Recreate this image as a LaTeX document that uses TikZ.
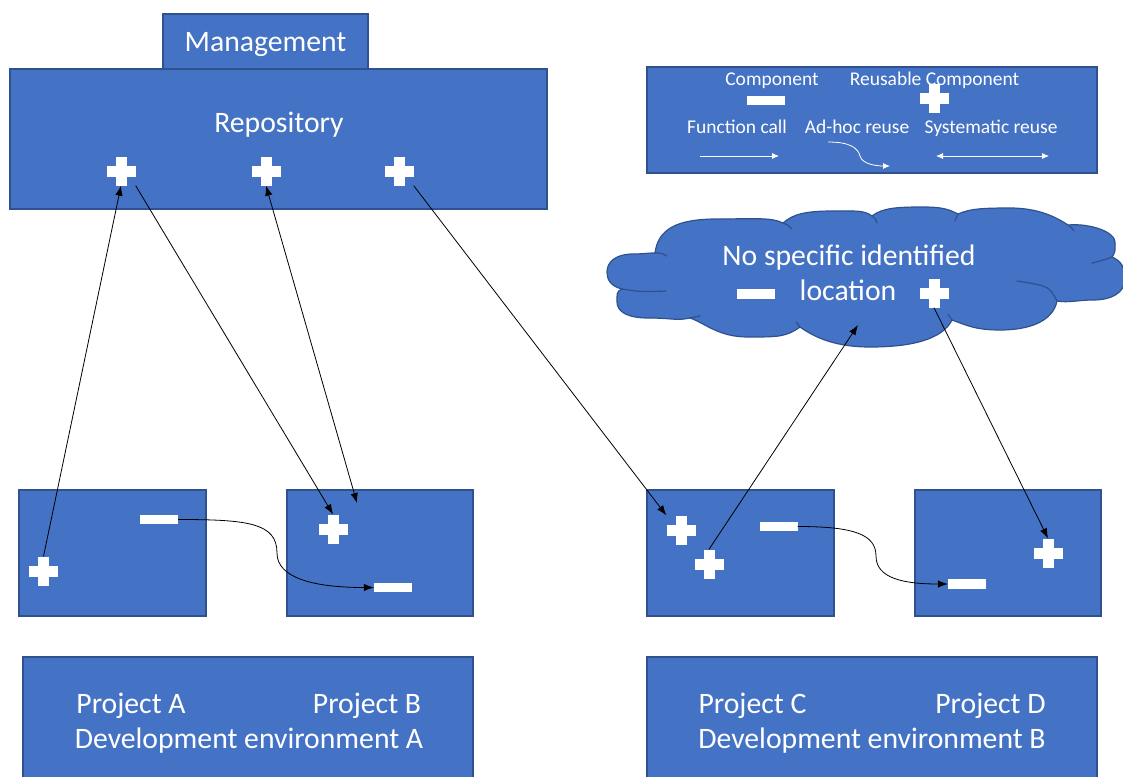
\documentclass[tikz,border=0pt]{standalone}
\usepackage{fontspec}
\setmainfont{Carlito}
\usetikzlibrary{arrows.meta,calc}
\definecolor{boxblue}{HTML}{4472C4}
\definecolor{boxedge}{HTML}{2F528F}
\tikzset{
 bluebox/.style={draw=boxedge, fill=boxblue, line width=1.2pt, inner sep=0},
 txt/.style={text=white, font=\fontsize{29.7}{35}\selectfont, inner sep=0, anchor=base},
 smalltxt/.style={text=white, font=\fontsize{19.5}{23}\selectfont, inner sep=0, anchor=base},
 minusbar/.style={fill=white, minimum width=38pt, minimum height=9.5pt, inner sep=0},
 plusnode/.style={minimum width=29pt, minimum height=29pt, inner sep=0},
 conn/.style={black, line width=0.8pt, -{Latex[length=10pt,width=7.5pt]}},
 conntwo/.style={black, line width=0.8pt, {Latex[length=10pt,width=7.5pt]}-{Latex[length=10pt,width=7.5pt]}},
 legarr/.style={white, line width=0.8pt, -{Latex[length=7pt,width=6pt]}},
 legarrtwo/.style={white, line width=0.8pt, {Latex[length=7pt,width=6pt]}-{Latex[length=7pt,width=6pt]}},
 puffline/.style={draw=boxedge, line width=1.2pt, line cap=round},
}
\newcommand\crossat[2]{%
 \node[plusnode] (#1) at (#2) {};
 \fill[white] ([xshift=-14.5pt,yshift=-5.5pt]#1.center) rectangle ([xshift=14.5pt,yshift=5.5pt]#1.center);
 \fill[white] ([xshift=-5.5pt,yshift=-14.5pt]#1.center) rectangle ([xshift=5.5pt,yshift=14.5pt]#1.center);}
\begin{document}
\begin{tikzpicture}[x=1pt,y=-1pt]
\useasboundingbox[fill=white] (0,0) rectangle (1123,776);
% boxes
\node[bluebox, minimum width=205pt, minimum height=55pt] (mgmt) at (265.5,41.5) {};
\node[bluebox, minimum width=537pt, minimum height=140pt] (repo) at (278.5,139) {};
\node[bluebox, minimum width=450pt, minimum height=106pt] (legend) at (872,120) {};
\node[bluebox, minimum width=187pt, minimum height=126pt] (pA) at (112.5,553) {};
\node[bluebox, minimum width=186pt, minimum height=126pt] (pB) at (380,553) {};
\node[bluebox, minimum width=187pt, minimum height=126pt] (pC) at (740.5,553) {};
\node[bluebox, minimum width=186pt, minimum height=126pt] (pD) at (1008,553) {};
\node[bluebox, minimum width=450pt, minimum height=133pt] (devA) at (248,723.5) {};
\node[bluebox, minimum width=450pt, minimum height=133pt] (devB) at (872,723.5) {};
% cloud outline
\coordinate (c1) at (655,253);
\coordinate (c2) at (783,223);
\coordinate (c3) at (872,216);
\coordinate (c4) at (958,214);
\coordinate (c5) at (1068,225);
\coordinate (c6) at (1112,257);
\coordinate (c7) at (1057,301);
\coordinate (c8) at (952,320);
\coordinate (c9) at (800,327);
\coordinate (c10) at (690,318);
\coordinate (c11) at (622,289);
\draw[puffline, fill=boxblue]
  (c11) .. controls +(-12,-3) and +(0,7) .. (607,272)
        .. controls +(0,-11) and +(-16,0) .. (633,254)
        .. controls +(10,0) and +(-8,0) .. (c1)
        .. controls +(3,-24) and +(-40,0) .. (717,219)
        .. controls +(35,0) and +(-12,-6) .. (c2)
        .. controls +(10,-9) and +(-27,0) .. (833,211)
        .. controls +(22,0) and +(-8,-6) .. (c3)
        .. controls +(10,-8) and +(-25,0) .. (922,207)
        .. controls +(20,0) and +(-10,-5) .. (c4)
        .. controls +(12,-5) and +(-30,0) .. (1010,208)
        .. controls +(28,0) and +(-12,-8) .. (c5)
        .. controls +(22,-2) and +(0,-10) .. (1115,242)
        .. controls +(0,8) and +(4,-6) .. (c6)
        .. controls +(9,4) and +(0,-12) .. (1125,279)
        .. controls +(0,14) and +(18,0) .. (1093,300)
        .. controls +(-15,0) and +(12,2) .. (c7)
        .. controls +(-4,20) and +(30,0) .. (1000,330)
        .. controls +(-25,0) and +(14,5) .. (c8)
        .. controls +(-10,20) and +(40,0) .. (870,347)
        .. controls +(-40,0) and +(10,7) .. (c9)
        .. controls +(-14,10) and +(30,0) .. (748,337)
        .. controls +(-30,0) and +(15,5) .. (c10)
        .. controls +(-14,3) and +(25,0) .. (648,318)
        .. controls +(-20,0) and +(0,10) .. (617,302)
        .. controls +(0,-6) and +(-6,2) .. (c11) -- cycle;
% inner arcs of the cloud
\draw[puffline] (c1) .. controls +(6,0) .. (667,256);
\draw[puffline] (c11) .. controls +(20,3) .. (666,291);
\draw[puffline] (c2) .. controls +(5,2) .. (792,229);
\draw[puffline] (c3) .. controls +(3,2) .. (877,223);
\draw[puffline] (c4) .. controls +(-2,3) .. (955,221);
\draw[puffline] (c5) .. controls +(3,2) .. (1074,231);
\draw[puffline] (c6) .. controls +(-8,3) .. (1092,263);
\draw[puffline] (c7) .. controls +(-8,-15) .. (1017,281);
\draw[puffline] (c8) .. controls +(-2,-3) .. (948,314);
\draw[puffline] (c9) .. controls +(-2,-2) .. (796,322);
\draw[puffline] (c10) .. controls +(5,-1) .. (700,316);
\coordinate (cloud) at (865,277);
% texts
\node[txt] (tmgmt) at (265.5,52) {Management};
\node[txt] (trepo) at (279,132) {Repository};
\node[txt] (tpa) at (131,713) {Project A};
\node[txt] (tpb) at (367,713) {Project B};
\node[txt] (tdeva) at (249,748) {Development environment A};
\node[txt] (tpc) at (752.5,713) {Project C};
\node[txt] (tpd) at (990.5,713) {Project D};
\node[txt] (tdevb) at (872,748) {Development environment B};
\node[txt] (tcl1) at (849,265) {No specific identified};
\node[txt] (tcl2) at (848,300) {location};
% legend
\node[smalltxt] (lcomp) at (772,85) {Component};
\node[smalltxt] (lrcomp) at (934.5,85) {Reusable Component};
\node[smalltxt] (lfc) at (737,133) {Function call};
\node[smalltxt] (lah) at (857,133) {Ad-hoc reuse};
\node[smalltxt] (lsr) at (991,133) {Systematic reuse};
\node[minusbar] (lminus) at (765.5,100.5) {};
\crossat{lplus}{934,98}
\coordinate (fc1) at (700,156);
\coordinate (fc2) at (779,156);
\coordinate (ah1) at (828,142);
\coordinate (ahm) at (860,156);
\coordinate (ah2) at (890,166);
\coordinate (sr1) at (936,156);
\coordinate (sr2) at (1049,156);
\draw[legarr] (fc1) -- (fc2);
\draw[legarr] (ah1) .. controls +(22,0) and +(-2,-8) .. (ahm) .. controls +(2,8) and +(-14,0) .. (ah2);
\draw[legarrtwo] (sr1) -- (sr2);
% components
\crossat{r1}{121,171}
\crossat{r2}{266,171}
\crossat{r3}{399,171}
\crossat{cplus}{934,293}
\node[minusbar] (cminus) at (756,294) {};
\crossat{aplus}{43.5,571}
\node[minusbar] (aminus) at (159,519.5) {};
\crossat{bplus}{333,529}
\node[minusbar] (bminus) at (393,587.5) {};
\crossat{cp1}{681,530}
\crossat{cp2}{709,564}
\node[minusbar] (cm) at (778.5,526.5) {};
\crossat{dplus}{1048,553}
\node[minusbar] (dm) at (967,584) {};
% connectors
\coordinate (btop) at (357,503);
\coordinate (cloudin) at (858,325);
\coordinate (abmid) at (277,553);
\coordinate (cdmid) at (876,556);
\draw[conn] (aplus.north) -- (r1.south);
\draw[conn] (r1.south east) -- (bplus.north);
\draw[conntwo] (btop) -- (r2.south);
\draw[conn] (r3.south east) -- (cp1.north west);
\draw[conn] (cp2.north) -- (cloudin);
\draw[conn] (cplus.south) -- (dplus.north);
\draw[conn] (aminus.east) .. controls +(70,0) and +(0,-30) .. (abmid) .. controls +(0,25) and +(-60,0) .. (bminus.west);
\draw[conn] (cm.east) .. controls +(55,0) and +(0,-22) .. (cdmid) .. controls +(0,22) and +(-45,0) .. (dm.west);
\end{tikzpicture}
\end{document}
